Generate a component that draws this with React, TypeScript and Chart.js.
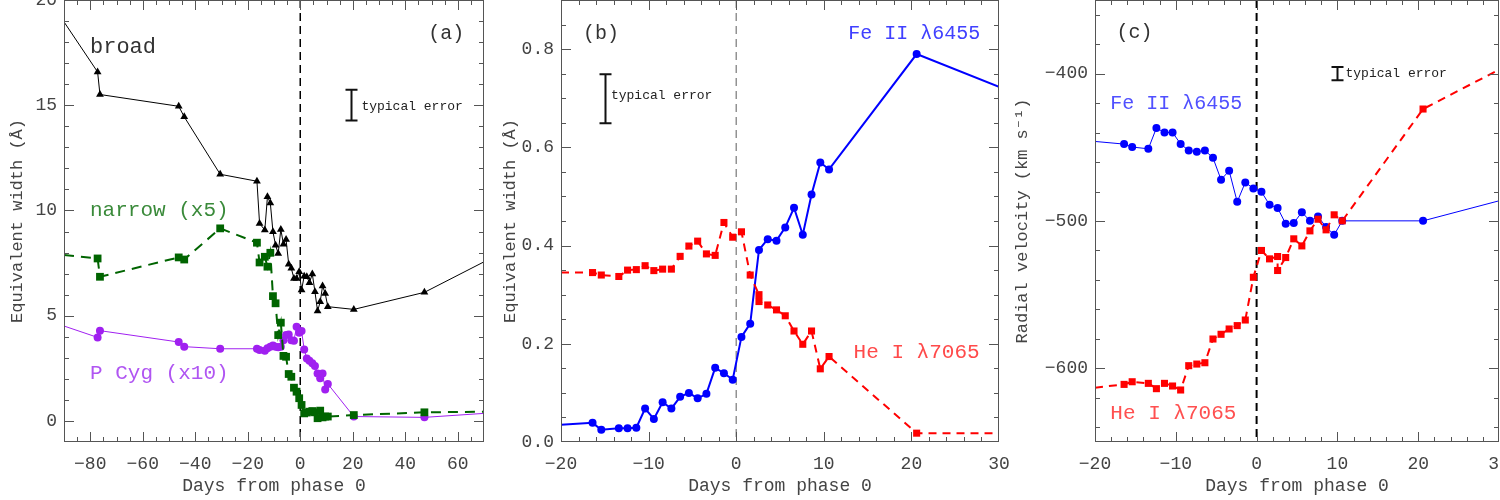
import React, { useEffect, useRef } from 'react';
import { Chart, registerables } from 'chart.js';
Chart.register(...registerables);

// ---------------- DATA ----------------
// Panel (a): equivalent widths of H-alpha components
const daysA = [-77.2, -76.3, -46.3, -44.2, -30.5, -16.5, -15.5, -13.5, -12.5, -11.4, -10.4, -9.4, -8.4, -7.4, -6.4, -5.4, -4.4, -3.4, -2.4, -1.4, -0.4, 0.5, 1.5, 2.5, 3.5, 4.6, 5.6, 6.6, 7.6, 8.5, 9.5, 10.5, 20.4, 47.3];
const broadEW = [16.58, 15.51, 14.95, 14.45, 11.72, 11.39, 9.38, 9.07, 10.65, 10.36, 8.99, 8.35, 7.96, 9.10, 8.40, 8.62, 7.45, 7.25, 6.77, 6.77, 7.09, 6.22, 6.88, 6.85, 6.57, 6.98, 6.14, 5.22, 5.66, 6.41, 6.06, 5.43, 5.30, 6.11];
const narrowEW = [7.72, 6.85, 7.77, 7.67, 9.15, 8.47, 7.53, 7.80, 7.33, 7.99, 5.93, 5.59, 4.08, 4.67, 3.09, 3.05, 2.23, 2.10, 1.58, 1.39, 1.08, 0.76, 0.36, 0.40, 0.44, 0.47, 0.41, 0.13, 0.49, 0.17, 0.21, 0.21, 0.28, 0.41];
const pcygEW = [3.97, 4.29, 3.75, 3.53, 3.43, 3.43, 3.37, 3.34, 3.45, 3.53, 3.59, 3.53, 3.50, 3.53, 3.84, 4.08, 4.11, 3.84, 3.81, 4.48, 4.19, 4.27, 3.40, 2.97, 2.86, 2.74, 2.61, 2.26, 2.03, 2.26, 1.50, 1.76, 0.21, 0.17];
// line continuations running off the plotted range (left edge, right edge)
const edgeDaysA = [-90, 70];
const broadEdge = [18.96, 7.56];
const narrowEdge = [7.88, 0.44];
const pcygEdge = [4.51, 0.36];

// Panels (b) and (c): Fe II 6455 and He I 7065
const daysFe = [-16.4, -15.4, -13.4, -12.4, -11.4, -10.4, -9.4, -8.4, -7.4, -6.4, -5.4, -4.4, -3.4, -2.4, -1.4, -0.4, 0.6, 1.6, 2.6, 3.6, 4.6, 5.6, 6.6, 7.6, 8.6, 9.6, 10.6, 20.6];
const daysHe = [-16.4, -15.4, -13.4, -12.4, -11.4, -10.4, -9.4, -8.4, -7.4, -6.4, -5.4, -4.4, -3.4, -2.4, -1.4, -0.4, 0.6, 1.6, 2.6, 2.6, 3.6, 4.6, 5.6, 6.6, 7.6, 8.6, 9.6, 10.6, 20.6];
const feEW = [0.039, 0.025, 0.028, 0.028, 0.029, 0.068, 0.047, 0.081, 0.068, 0.092, 0.100, 0.089, 0.098, 0.151, 0.140, 0.127, 0.214, 0.241, 0.391, 0.413, 0.410, 0.437, 0.477, 0.422, 0.504, 0.569, 0.555, 0.790];
const heEW = [0.345, 0.340, 0.337, 0.350, 0.351, 0.359, 0.349, 0.352, 0.352, 0.378, 0.399, 0.409, 0.383, 0.380, 0.447, 0.417, 0.428, 0.340, 0.300, 0.286, 0.279, 0.269, 0.257, 0.226, 0.199, 0.226, 0.149, 0.174, 0.018];
const feRV = [-447.8, -449.8, -451.0, -436.9, -439.9, -439.9, -447.8, -452.1, -453.0, -452.1, -457.1, -472.0, -465.9, -487.0, -473.8, -477.9, -480.2, -489.0, -491.1, -501.9, -501.4, -494.0, -499.9, -497.0, -504.0, -509.4, -499.9, -499.9];
const heRV = [-610.9, -609.1, -610.2, -613.8, -610.2, -612.0, -614.7, -598.2, -597.1, -596.2, -580.1, -576.9, -573.3, -571.0, -567.2, -538.2, -520.0, -525.7, -524.1, -533.6, -524.8, -512.1, -516.9, -506.7, -498.8, -506.0, -495.8, -499.9, -424.0];
const edgeDaysBC = [-20, 30];
const feEWEdge = [0.035, 0.723];
const heEWEdge = [0.345, 0.018];
const feRVEdge = [-446.0, -486.3];
const heRVEdge = [-613.1, -397.3];

// Tick labels
const xTicksA = [-80, -60, -40, -20, 0, 20, 40, 60];
const yTicksA = [0, 5, 10, 15, 20];
const xTicksBC = [-20, -10, 0, 10, 20, 30];
const yTicksB = [0, 0.2, 0.4, 0.6, 0.8];
const yTicksC = [-600, -500, -400];

// ---------------- STYLE ----------------
const FONT = "'Liberation Mono', 'DejaVu Sans Mono', monospace";
const TEXT = '#444';
const AXIS = '#555';

function series(days: number[], vals: number[], edgeDays: number[], edgeVals: number[]) {
  const pts = days.map((d, i) => ({ x: d, y: vals[i], e: false }));
  return [{ x: edgeDays[0], y: edgeVals[0], e: true }, ...pts, { x: edgeDays[1], y: edgeVals[1], e: true }];
}

function ds(data: any[], color: string, style: string, radius: number, width: number, dash: number[]) {
  return {
    data,
    showLine: true,
    borderColor: color,
    backgroundColor: color,
    borderWidth: width,
    borderDash: dash,
    pointStyle: style,
    pointRadius: (c: any) => (c.raw && c.raw.e ? 0 : radius),
    pointBorderWidth: 0,
    pointBackgroundColor: color,
    pointBorderColor: color,
    tension: 0,
  };
}

interface Deco {
  xMinor: number;
  yMinor: number;
  zero: { color: string; width: number; dash: number[] };
  err: { x: number; y: number; half: number; tx: number; ty: number };
  labels: { text: string; x: number; y: number; color: string; size: number }[];
}

function makeDeco(cfg: Deco) {
  return {
    id: 'deco',
    beforeDatasetsDraw(chart: any) {
      const { ctx, chartArea: a, scales } = chart;
      const px = scales.x.getPixelForValue(0);
      ctx.save();
      ctx.strokeStyle = cfg.zero.color;
      ctx.lineWidth = cfg.zero.width;
      ctx.setLineDash(cfg.zero.dash);
      ctx.beginPath();
      ctx.moveTo(px, a.top);
      ctx.lineTo(px, a.bottom);
      ctx.stroke();
      ctx.restore();
    },
    afterDraw(chart: any) {
      const { ctx, chartArea: a, scales } = chart;
      const xs = scales.x, ys = scales.y;
      ctx.save();
      ctx.strokeStyle = AXIS;
      ctx.lineWidth = 1;
      ctx.setLineDash([]);
      ctx.beginPath();
      const drawX = (v: number, len: number) => {
        const p = Math.round(xs.getPixelForValue(v)) + 0.5;
        if (p < a.left || p > a.right) return;
        ctx.moveTo(p, a.bottom); ctx.lineTo(p, a.bottom - len);
        ctx.moveTo(p, a.top); ctx.lineTo(p, a.top + len);
      };
      const drawY = (v: number, len: number) => {
        const p = Math.round(ys.getPixelForValue(v)) + 0.5;
        if (p < a.top || p > a.bottom) return;
        ctx.moveTo(a.left, p); ctx.lineTo(a.left + len, p);
        ctx.moveTo(a.right, p); ctx.lineTo(a.right - len, p);
      };
      for (let k = Math.ceil(xs.min / cfg.xMinor); k * cfg.xMinor <= xs.max + 1e-9; k++) drawX(k * cfg.xMinor, 5);
      for (let k = Math.ceil(ys.min / cfg.yMinor - 1e-9); k * cfg.yMinor <= ys.max + 1e-9; k++) drawY(k * cfg.yMinor, 5);
      xs.ticks.forEach((t: any) => drawX(t.value, 10));
      ys.ticks.forEach((t: any) => drawY(t.value, 10));
      ctx.stroke();
      ctx.strokeRect(Math.round(a.left) + 0.5, Math.round(a.top) + 0.5, Math.round(a.right - a.left) - 1, Math.round(a.bottom - a.top) - 1);

      // typical error bar
      const ex = Math.round(xs.getPixelForValue(cfg.err.x)) + 0.5;
      const e1 = ys.getPixelForValue(cfg.err.y - cfg.err.half);
      const e2 = ys.getPixelForValue(cfg.err.y + cfg.err.half);
      ctx.strokeStyle = '#111';
      ctx.lineWidth = 2;
      ctx.beginPath();
      ctx.moveTo(ex, e1); ctx.lineTo(ex, e2);
      ctx.moveTo(ex - 6, e1); ctx.lineTo(ex + 6, e1);
      ctx.moveTo(ex - 6, e2); ctx.lineTo(ex + 6, e2);
      ctx.stroke();
      ctx.fillStyle = '#222';
      ctx.font = `13px ${FONT}`;
      ctx.textBaseline = 'middle';
      ctx.textAlign = 'left';
      ctx.fillText('typical error', xs.getPixelForValue(cfg.err.tx), ys.getPixelForValue(cfg.err.ty));

      for (const l of cfg.labels) {
        ctx.fillStyle = l.color;
        ctx.font = `${l.size}px ${FONT}`;
        ctx.fillText(l.text, xs.getPixelForValue(l.x), ys.getPixelForValue(l.y));
      }
      ctx.restore();
    },
  };
}

function makeConfig(opts: {
  datasets: any[];
  xMin: number; xMax: number; yMin: number; yMax: number;
  xTicks: number[]; yTicks: number[];
  yFmt: (v: number) => string;
  yTitle: string;
  yWidth: number; yTitlePad: number;
  padRight: number;
  deco: Deco;
}) {
  const fmtMinus = (s: string) => s.replace('-', '\u2212');
  return {
    type: 'scatter',
    data: { datasets: opts.datasets },
    options: {
      animation: false,
      responsive: false,
      maintainAspectRatio: false,
      events: [],
      layout: { padding: { top: 0, right: opts.padRight, left: 0, bottom: 0 } },
      plugins: { legend: { display: false }, tooltip: { enabled: false } },
      scales: {
        x: {
          type: 'linear',
          min: opts.xMin, max: opts.xMax,
          grid: { display: false, drawTicks: false },
          border: { display: false },
          afterBuildTicks: (s: any) => { s.ticks = opts.xTicks.map((v) => ({ value: v })); },
          afterFit: (s: any) => { s.height = 58; s.paddingLeft = 0; s.paddingRight = 0; },
          ticks: {
            color: TEXT, padding: 11, maxRotation: 0, autoSkip: false,
            font: { family: FONT, size: 18 },
            callback: (v: any) => fmtMinus(String(v)),
          },
          title: {
            display: true, text: 'Days from phase 0', color: TEXT,
            font: { family: FONT, size: 18 }, padding: { top: 0, bottom: 3 },
          },
        },
        y: {
          type: 'linear',
          min: opts.yMin, max: opts.yMax,
          grid: { display: false, drawTicks: false },
          border: { display: false },
          afterBuildTicks: (s: any) => { s.ticks = opts.yTicks.map((v) => ({ value: v })); },
          afterFit: (s: any) => { s.width = opts.yWidth; s.paddingTop = 0; s.paddingBottom = 0; },
          ticks: {
            color: TEXT, padding: 7, autoSkip: false,
            font: { family: FONT, size: 18 },
            callback: (v: any) => fmtMinus(opts.yFmt(Number(v))),
          },
          title: {
            display: true, text: opts.yTitle, color: TEXT,
            font: { family: FONT, size: 17 }, padding: { top: opts.yTitlePad, bottom: 0 },
          },
        },
      },
    },
    plugins: [makeDeco(opts.deco)],
  };
}

function Panel({ left, width, config }: { left: number; width: number; config: any }) {
  const ref = useRef<HTMLCanvasElement>(null);
  useEffect(() => {
    if (!ref.current) return;
    const chart = new Chart(ref.current, config);
    return () => chart.destroy();
  }, []);
  return (
    <canvas
      ref={ref}
      width={width}
      height={500}
      style={{ position: 'absolute', left, top: 0, width, height: 500 }}
    />
  );
}

const GREEN = '#006400';
const PURPLE = '#a020f0';
const BLUE = '#0000ff';
const RED = '#ff0000';

const configA = makeConfig({
  datasets: [
    ds(series(daysA, broadEW, edgeDaysA, broadEdge), '#000', 'triangle', 4.5, 1, []),
    ds(series(daysA, narrowEW, edgeDaysA, narrowEdge), GREEN, 'rect', 5.5, 2, [10, 7]),
    ds(series(daysA, pcygEW, edgeDaysA, pcygEdge), PURPLE, 'circle', 4, 1, []),
  ],
  xMin: -90, xMax: 70, yMin: -1, yMax: 20,
  xTicks: xTicksA, yTicks: yTicksA,
  yFmt: (v) => String(v),
  yTitle: 'Equivalent width (\u00c5)',
  yWidth: 64, yTitlePad: 7, padRight: 16,
  deco: {
    xMinor: 5, yMinor: 1,
    zero: { color: '#000', width: 1.5, dash: [8, 5] },
    err: { x: 19.5, y: 15.0, half: 0.73, tx: 23.3, ty: 14.96 },
    labels: [
      { text: 'broad', x: -80.1, y: 17.76, color: '#333', size: 22 },
      { text: 'narrow (x5)', x: -80.1, y: 10.02, color: '#3a8a3a', size: 21 },
      { text: 'P Cyg (x10)', x: -80.1, y: 2.28, color: '#b055f2', size: 21 },
      { text: '(a)', x: 48.8, y: 18.42, color: '#333', size: 20 },
    ],
  },
});

const configB = makeConfig({
  datasets: [
    ds(series(daysHe, heEW, edgeDaysBC, heEWEdge), RED, 'rect', 5, 2, [8, 6]),
    ds(series(daysFe, feEW, edgeDaysBC, feEWEdge), BLUE, 'circle', 4, 2, []),
  ],
  xMin: -20, xMax: 30, yMin: 0, yMax: 0.9,
  xTicks: xTicksBC, yTicks: yTicksB,
  yFmt: (v) => v.toFixed(1),
  yTitle: 'Equivalent width (\u00c5)',
  yWidth: 61, yTitlePad: 0, padRight: 21,
  deco: {
    xMinor: 2, yMinor: 0.05,
    zero: { color: '#777', width: 1.2, dash: [8, 5] },
    err: { x: -15.0, y: 0.699, half: 0.05, tx: -14.3, ty: 0.706 },
    labels: [
      { text: '(b)', x: -17.5, y: 0.832, color: '#333', size: 20 },
      { text: 'Fe II \u03bb6455', x: 12.8, y: 0.832, color: '#4040ff', size: 20 },
      { text: 'He I \u03bb7065', x: 13.4, y: 0.183, color: '#ff4a4a', size: 21 },
    ],
  },
});

const configC = makeConfig({
  datasets: [
    ds(series(daysHe, heRV, edgeDaysBC, heRVEdge), RED, 'rect', 5, 2, [8, 6]),
    ds(series(daysFe, feRV, edgeDaysBC, feRVEdge), BLUE, 'circle', 4, 1, []),
  ],
  xMin: -20, xMax: 30, yMin: -650, yMax: -350,
  xTicks: xTicksBC, yTicks: yTicksC,
  yFmt: (v) => String(v),
  yTitle: 'Radial velocity (km s\u207b\u00b9)',
  yWidth: 95, yTitlePad: 12, padRight: 1,
  deco: {
    xMinor: 2, yMinor: 20,
    zero: { color: '#000', width: 2, dash: [8, 5] },
    err: { x: 10.0, y: -400, half: 4.5, tx: 11.0, ty: -400 },
    labels: [
      { text: '(c)', x: -17.35, y: -372.1, color: '#333', size: 20 },
      { text: 'Fe II \u03bb6455', x: -18.1, y: -420.4, color: '#5050ff', size: 20 },
      { text: 'He I \u03bb7065', x: -18.1, y: -630.3, color: '#ff5050', size: 21 },
    ],
  },
});

export default function App() {
  return (
    <div style={{ position: 'absolute', left: 0, top: 0, width: 1500, height: 500, background: '#fff', overflow: 'hidden' }}>
      <Panel left={0} width={500} config={configA} />
      <Panel left={500} width={520} config={configB} />
      <Panel left={1000} width={500} config={configC} />
    </div>
  );
}
